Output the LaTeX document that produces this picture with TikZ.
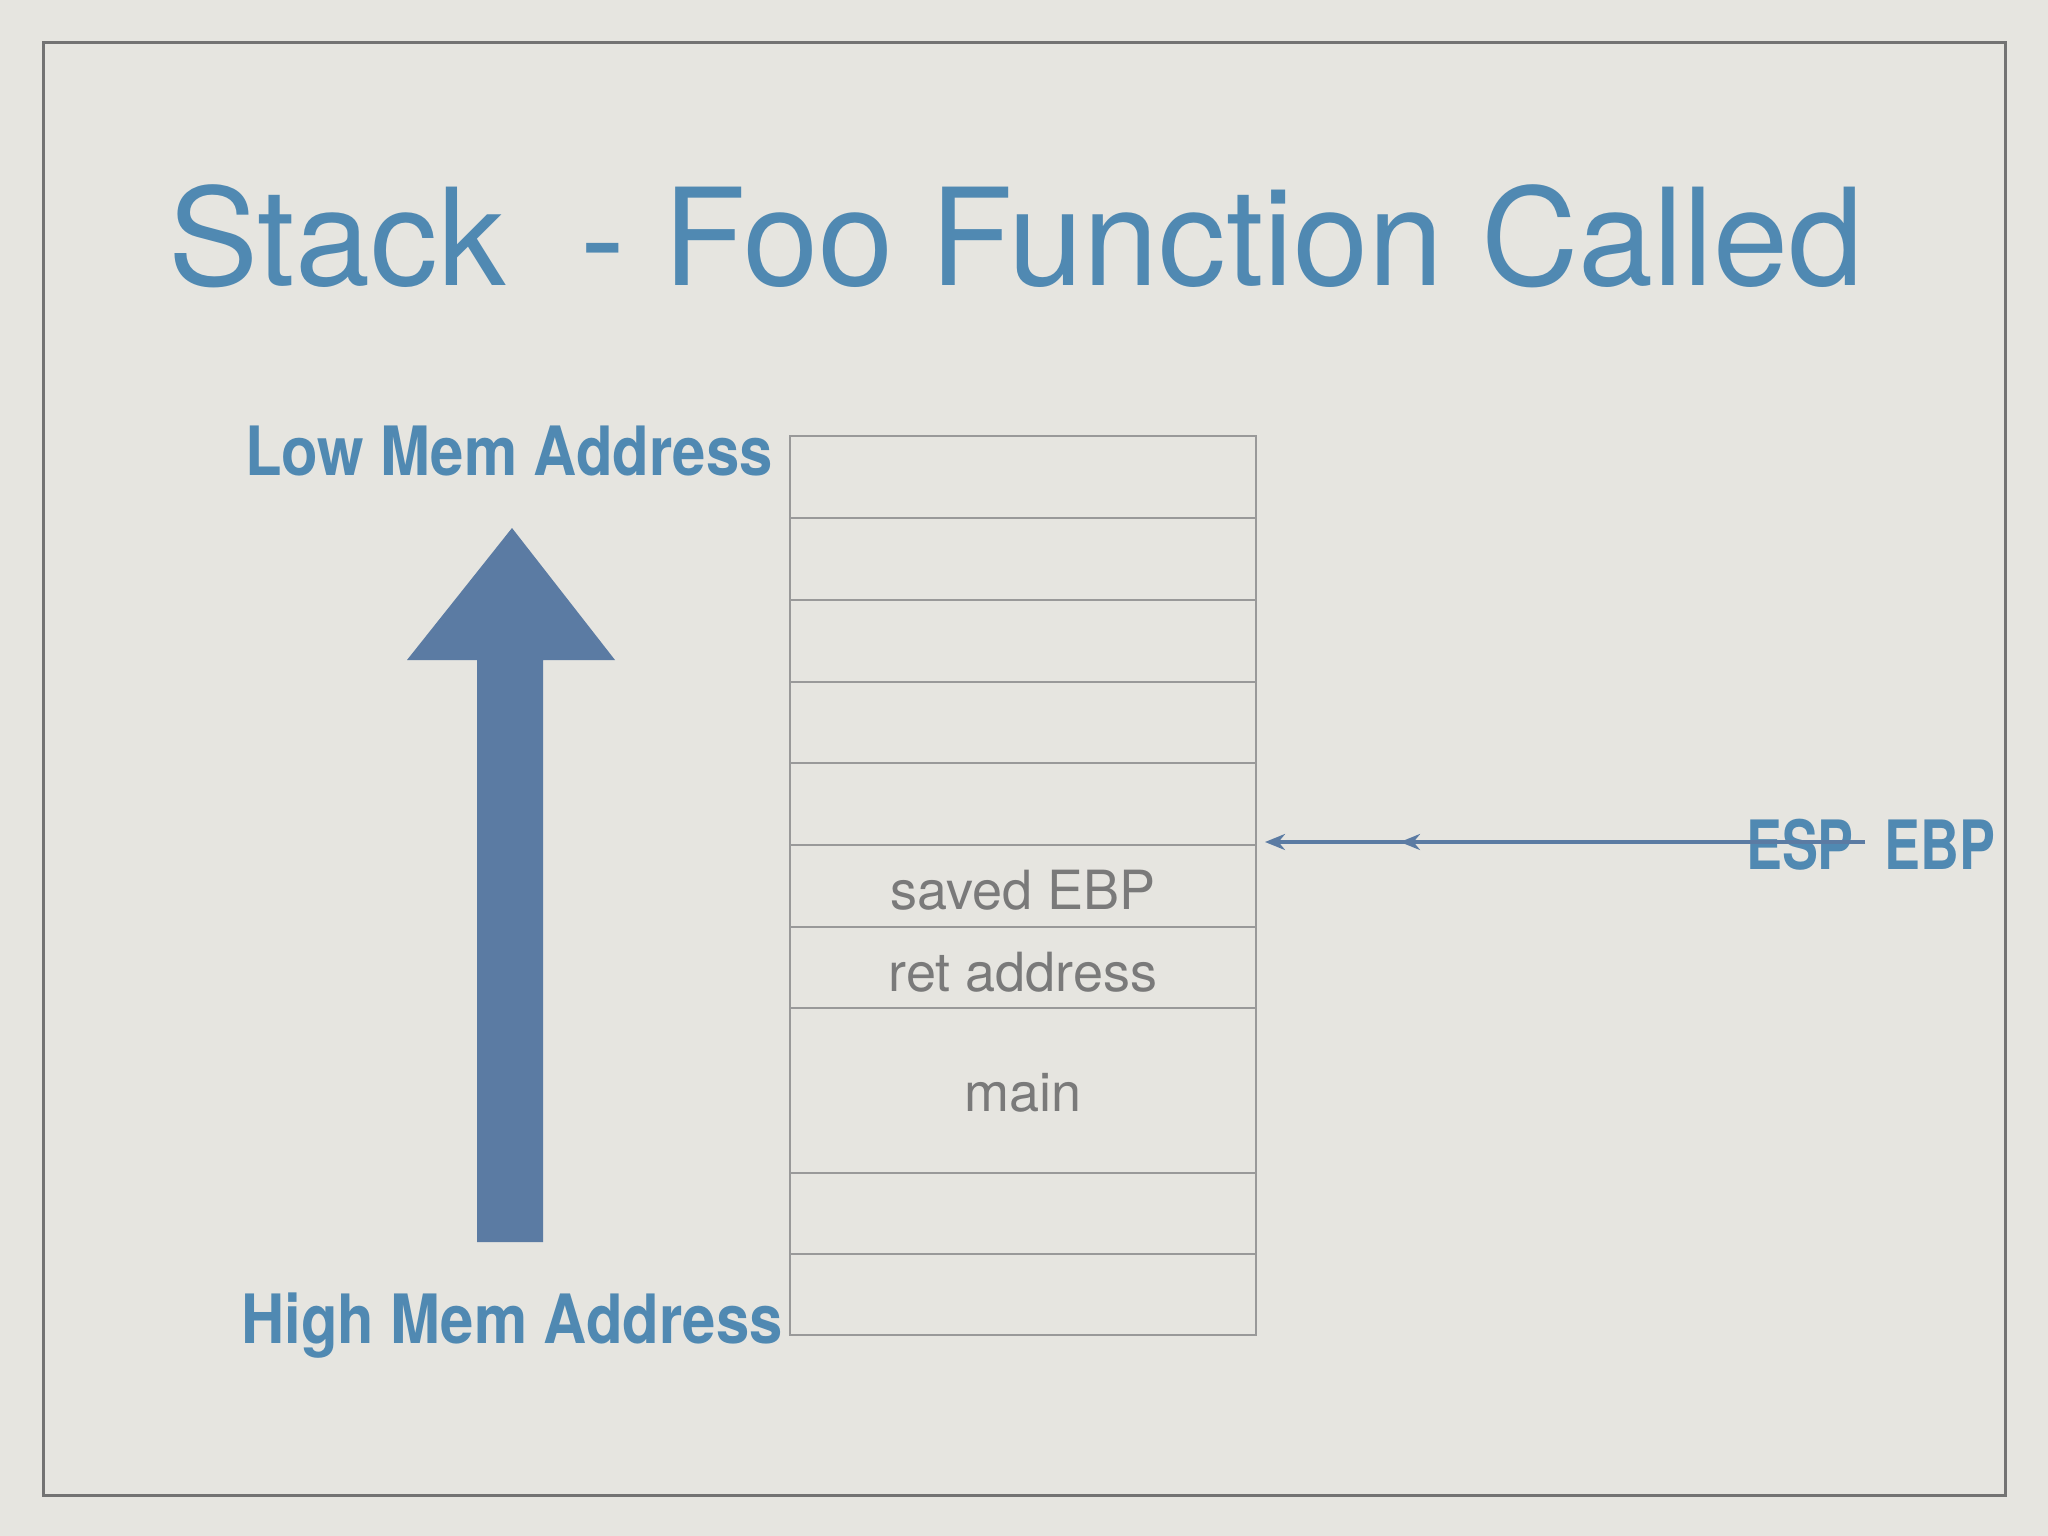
\documentclass[tikz,border=0pt]{standalone}
\usepackage{fontspec}
\setmainfont{TeX Gyre Heros}
\usetikzlibrary{arrows.meta}
\definecolor{bg}{HTML}{E6E5E0}
\definecolor{ttl}{HTML}{5089B2}
\definecolor{arr}{HTML}{5B7BA3}
\definecolor{txt}{HTML}{7A7A7A}
\begin{document}
\begin{tikzpicture}[x=1pt,y=-1pt,
  cell/.style={draw=gray!80,line width=1.5pt},
  lbl/.style={text=txt,font=\fontsize{54}{60}\selectfont},
  blue/.style={text=ttl,font=\bfseries\fontsize{68}{72}\selectfont,xscale=0.88,inner sep=0},
  ptr/.style={draw=arr,line width=3.5pt,-{Stealth[length=20pt,width=16pt]}}]
\fill[bg] (0,0) rectangle (2048,1536);
\useasboundingbox (0,0) rectangle (2048,1536);
\draw[gray!90!black,line width=3pt] (43,43) rectangle (2005,1495);
\node[text=ttl,font=\fontsize{135}{140}\selectfont,anchor=base] (title) at (1016,285) {Stack\ \ - Foo Function Called};
\foreach \a/\b [count=\i] in {436/518,518/600,600/682,682/763,763/845,845/927,927/1008,1008/1173,1173/1254,1254/1335}
  \draw[cell] (790,\a) rectangle (1256,\b);
\node[lbl] (s) at (1023,890) {saved EBP};
\node[lbl] (r) at (1023,972) {ret address};
\node[lbl] (m) at (1023,1093) {main};
\node[blue] (low) at (509,451) {Low Mem Address};
\node[blue] (high) at (512,1326) {High Mem Address};
\fill[arr] (477,1242) -- (477,660) -- (407,660) -- (512,528) -- (615,660) -- (543,660) -- (543,1242) -- cycle;
\node[blue,xscale=0.9] (esp) at (1800,845) {ESP};
\node[blue,xscale=0.9] (ebp) at (1940,845) {EBP};
\coordinate (e1) at (1865,842);
\coordinate (t1) at (1265,842);
\coordinate (t2) at (1400,842);
\draw[ptr] (e1) -- (t1);
\draw[ptr] (e1) -- (t2);
\end{tikzpicture}
\end{document}
